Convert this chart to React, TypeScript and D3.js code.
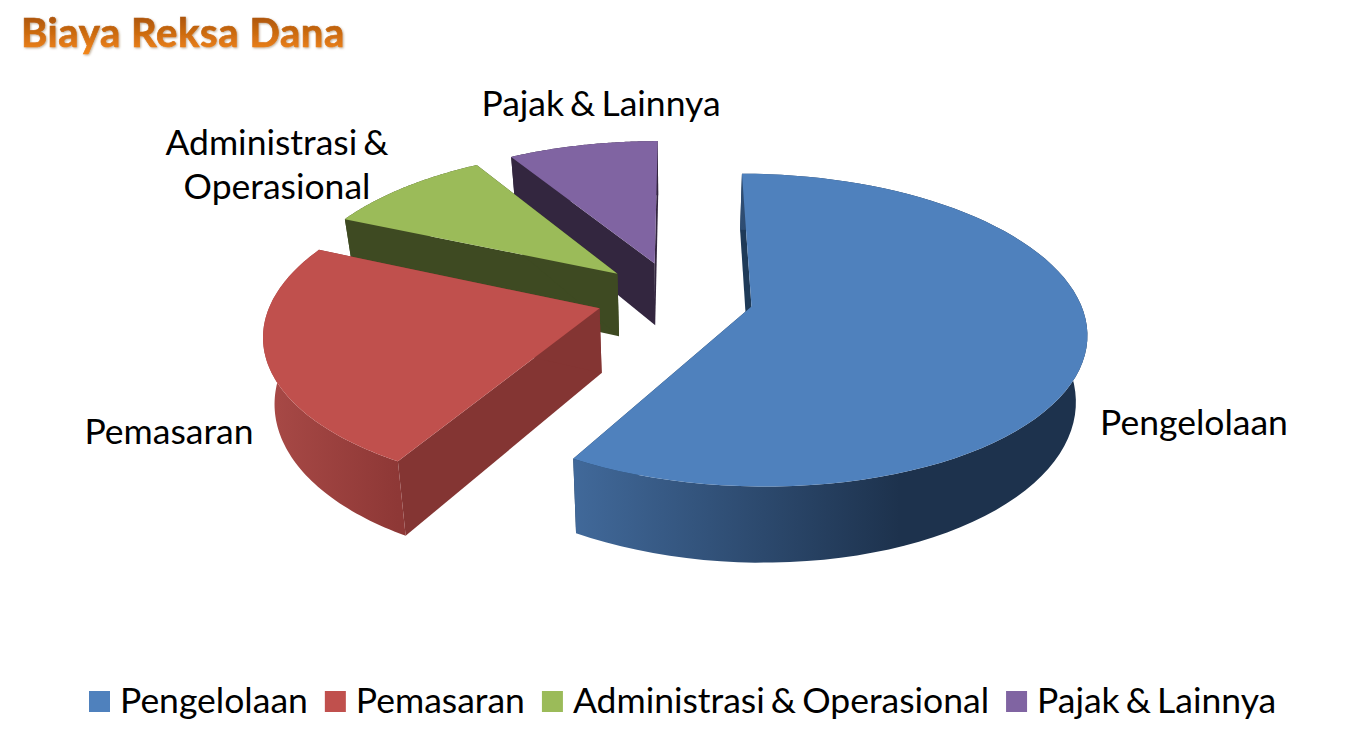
import * as d3 from 'd3';
import React, { useRef, useEffect } from 'react';

const categories = ['Pengelolaan', 'Pemasaran', 'Administrasi & Operasional', 'Pajak & Lainnya'];
const shares = [58.3, 23.3, 9.7, 8.7];
const labelLines = [['Pengelolaan'], ['Pemasaran'], ['Administrasi &', 'Operasional'], ['Pajak & Lainnya']];

const topColors = ['#4f81bd', '#c0504d', '#9bbb59', '#8064a2'];
const edgeColors = ['#1e3a58', '#843533', '#3e4a22', '#33263f'];
const wallFrom = ['#41699a', '#a94a47', '#3e4a22', '#33263f'];
const wallTo = ['#1d324d', '#8e3836', '#3e4a22', '#33263f'];

const labelPos = [[1194, 424], [169, 433], [277, 144], [601, 105]];

const FONT = 'Lato, sans-serif';

// pie plane -> screen, a small perspective so that the back is squeezed
const cx = 675;
const cy = 297;
const radiusX = 327;
const radiusZ = 150;
const persp = 0.15;
const explode = 0.24;
const depth = 64;
const converge = 0.972;

const project = (x: number, z: number, down: boolean) => {
    const w = 1 + persp * z;
    const sx = radiusX * x / w;
    const sy = -radiusZ * z / w;
    return down
        ? [cx + sx * converge, cy + sy + depth / w]
        : [cx + sx, cy + sy];
};

export default function App() {
    const ref = useRef<SVGSVGElement>(null);

    useEffect(() => {
        const svg = d3.select(ref.current);
        svg.selectAll('*').remove();

        const defs = svg.append('defs');

        const titleGrad = defs.append('linearGradient')
            .attr('id', 'titleGrad')
            .attr('x1', 0).attr('x2', 0).attr('y1', 0).attr('y2', 1);
        titleGrad.append('stop').attr('offset', '0%').attr('stop-color', '#9c4a06');
        titleGrad.append('stop').attr('offset', '100%').attr('stop-color', '#f8891a');

        const shadow = defs.append('filter').attr('id', 'titleShadow')
            .attr('x', '-5%').attr('y', '-20%').attr('width', '110%').attr('height', '140%');
        shadow.append('feDropShadow')
            .attr('dx', 1).attr('dy', 1).attr('stdDeviation', 1)
            .attr('flood-color', '#8a6a40').attr('flood-opacity', 0.55);

        const pie = d3.pie<number>()
            .sort(null)
            .startAngle(0.1 * Math.PI / 180)
            .endAngle(360.1 * Math.PI / 180);
        const arcs = pie(shares);

        const line = d3.line();

        // back slices first
        const order = d3.range(arcs.length).reverse();

        order.forEach((i) => {
            const a = arcs[i];
            const mid = (a.startAngle + a.endAngle) / 2;
            const ox = explode * Math.sin(mid);
            const oz = explode * Math.cos(mid);

            const angles = d3.range(0, 81).map((k) => a.startAngle + (a.endAngle - a.startAngle) * k / 80);
            const rim = (down: boolean) => angles.map((t) =>
                project(ox + Math.sin(t), oz + Math.cos(t), down) as [number, number]);
            const apex = project(ox, oz, false) as [number, number];
            const apexDown = project(ox, oz, true) as [number, number];
            const top = rim(false);
            const bottom = rim(true);

            const g = svg.append('g');

            // radial walls
            g.append('path')
                .attr('d', line([apex, top[0], bottom[0], apexDown]) + 'Z')
                .attr('fill', edgeColors[i]);
            g.append('path')
                .attr('d', line([apex, top[80], bottom[80], apexDown]) + 'Z')
                .attr('fill', edgeColors[i]);

            // outer wall, only the front part can be seen
            const xs = d3.extent(top.map((p) => p[0])) as [number, number];
            const grad = defs.append('linearGradient')
                .attr('id', 'wall' + i)
                .attr('gradientUnits', 'userSpaceOnUse')
                .attr('x1', i === 0 ? 573 : xs[0]).attr('x2', i === 0 ? 900 : xs[1])
                .attr('y1', 0).attr('y2', 0);
            grad.append('stop').attr('offset', '0%').attr('stop-color', wallFrom[i]);
            grad.append('stop').attr('offset', '100%').attr('stop-color', wallTo[i]);

            g.append('path')
                .attr('d', line([...top, ...bottom.slice().reverse()]) + 'Z')
                .attr('fill', `url(#wall${i})`);

            // top face
            g.append('path')
                .attr('d', line([apex, ...top]) + 'Z')
                .attr('fill', topColors[i]);
        });

        // data labels
        labelLines.forEach((lines, i) => {
            const text = svg.append('text')
                .attr('text-anchor', 'middle')
                .attr('font-family', FONT)
                .attr('font-size', 35.5)
                .attr('word-spacing', -3)
                .attr('fill', '#000');
            lines.forEach((l, j) => {
                text.append('tspan')
                    .attr('x', labelPos[i][0])
                    .attr('y', labelPos[i][1] + 11 + j * 44)
                    .text(l);
            });
        });

        // legend
        let x = 89;
        categories.forEach((c, i) => {
            svg.append('rect')
                .attr('x', x).attr('y', 691)
                .attr('width', 21).attr('height', 21)
                .attr('fill', topColors[i]);
            const t = svg.append('text')
                .attr('x', x + 31).attr('y', 713)
                .attr('font-family', FONT)
                .attr('font-size', 35.5)
                .attr('word-spacing', -3)
                .attr('fill', '#000')
                .text(c);
            x += 31 + (t.node() as SVGTextElement).getComputedTextLength() + 17;
        });

        // title
        svg.append('text')
            .attr('x', 21).attr('y', 47)
            .attr('font-family', FONT)
            .attr('font-weight', 700)
            .attr('font-size', 40)
            .attr('letter-spacing', 0.6)
            .attr('fill', 'url(#titleGrad)')
            .attr('stroke', 'url(#titleGrad)')
            .attr('stroke-width', 0.7)
            .attr('filter', 'url(#titleShadow)')
            .text('Biaya Reksa Dana');
    }, []);

    return (
        <svg
            ref={ref}
            width={1352}
            height={744}
            style={{ position: 'fixed', left: 0, top: 0, background: '#fff' }}
        />
    );
}
